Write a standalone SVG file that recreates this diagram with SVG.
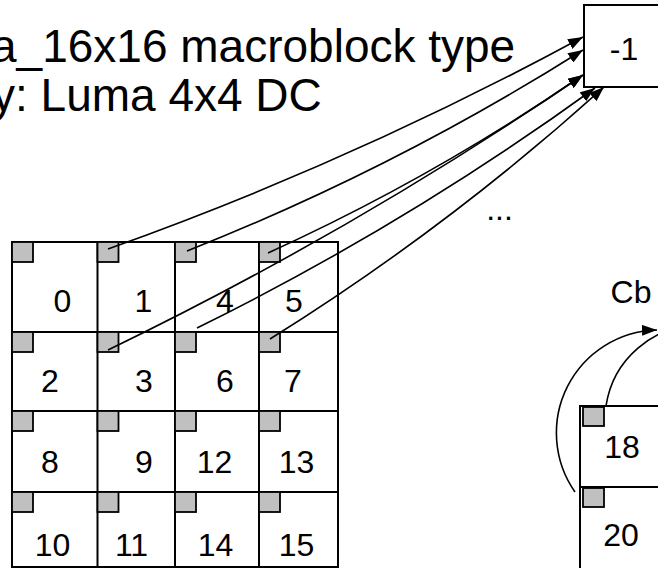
<svg xmlns="http://www.w3.org/2000/svg" width="658" height="568" viewBox="0 0 658 568">
<style>
text{font-family:"Liberation Sans",Arial,sans-serif;fill:#000}
.num{font-size:32px;text-anchor:middle}
.title{font-size:46px}
.grid{fill:none;stroke:#000;stroke-width:2}
.sq{fill:#c0c0c0;stroke:#000;stroke-width:1.8}
.conn{fill:none;stroke:#000;stroke-width:1.6}
</style>
<defs>
<marker id="ah" viewBox="0 0 15 11" refX="15" refY="5.5" markerWidth="15" markerHeight="11" orient="auto" markerUnits="userSpaceOnUse"><path d="M0,0 L15,5.5 L0,11 z" fill="#000"/></marker>
</defs>
<rect width="658" height="568" fill="#fff"/>
<g id="title">
<text class="title" x="-9" y="62">a_16x16 macroblock type</text>
<text class="title" x="-8" y="111">y: Luma 4x4 DC</text>
</g>
<g id="dcblock">
<rect class="grid" x="584" y="5" width="90" height="82"/>
<text class="num" x="624" y="60">-1</text>
</g>
<g id="luma-grid">
<rect class="grid" x="12" y="242" width="326" height="325"/>
<line class="grid" x1="97.5" y1="242" x2="97.5" y2="567"/>
<line class="grid" x1="175" y1="242" x2="175" y2="567"/>
<line class="grid" x1="259" y1="242" x2="259" y2="567"/>
<line class="grid" x1="12" y1="332" x2="338" y2="332"/>
<line class="grid" x1="12" y1="411" x2="338" y2="411"/>
<line class="grid" x1="12" y1="492" x2="338" y2="492"/>
</g>
<g id="blk0"><rect class="sq" x="12" y="242" width="21" height="20"/><text class="num" x="62.5" y="312">0</text></g>
<g id="blk1"><rect class="sq" x="97.5" y="242" width="21" height="20"/><text class="num" x="143.5" y="312">1</text></g>
<g id="blk4"><rect class="sq" x="175" y="242" width="21" height="20"/><text class="num" x="225" y="312">4</text></g>
<g id="blk5"><rect class="sq" x="259" y="242" width="21" height="20"/><text class="num" x="294" y="312">5</text></g>
<g id="blk2"><rect class="sq" x="12" y="332" width="21" height="20"/><text class="num" x="50" y="392">2</text></g>
<g id="blk3"><rect class="sq" x="97.5" y="332" width="21" height="20"/><text class="num" x="144" y="392">3</text></g>
<g id="blk6"><rect class="sq" x="175" y="332" width="21" height="20"/><text class="num" x="225" y="392">6</text></g>
<g id="blk7"><rect class="sq" x="259" y="332" width="21" height="20"/><text class="num" x="293" y="392">7</text></g>
<g id="blk8"><rect class="sq" x="12" y="411" width="21" height="20"/><text class="num" x="50" y="473">8</text></g>
<g id="blk9"><rect class="sq" x="97.5" y="411" width="21" height="20"/><text class="num" x="144" y="473">9</text></g>
<g id="blk12"><rect class="sq" x="175" y="411" width="21" height="20"/><text class="num" x="214.5" y="473">12</text></g>
<g id="blk13"><rect class="sq" x="259" y="411" width="21" height="20"/><text class="num" x="296.5" y="473">13</text></g>
<g id="blk10"><rect class="sq" x="12" y="492" width="21" height="20"/><text class="num" x="52.5" y="556">10</text></g>
<g id="blk11"><rect class="sq" x="97.5" y="492" width="21" height="20"/><text class="num" x="131.5" y="556">11</text></g>
<g id="blk14"><rect class="sq" x="175" y="492" width="21" height="20"/><text class="num" x="215.5" y="556">14</text></g>
<g id="blk15"><rect class="sq" x="259" y="492" width="21" height="20"/><text class="num" x="296.5" y="556">15</text></g>
<g id="ellipsis"><text class="num" x="499.5" y="220">...</text></g>
<g id="cb-label"><text class="num" x="631" y="303">Cb</text></g>
<g id="chroma">
<path class="grid" d="M580,568 V406 H660 M580,487 H660"/>
<rect class="sq" x="583" y="407" width="21" height="19"/>
<text class="num" x="622" y="458">18</text>
<rect class="sq" x="583" y="488" width="21" height="19"/>
<text class="num" x="621" y="546">20</text>
</g>
<g id="connectors">
<path class="conn" marker-end="url(#ah)" d="M108,249 Q353.5,161.5 583,37"/>
<path class="conn" marker-end="url(#ah)" d="M187,251 Q394.5,169 583,50"/>
<path class="conn" marker-end="url(#ah)" d="M268,253 Q433,178 583,75"/>
<path class="conn" marker-end="url(#ah)" d="M108,350 Q356,230 583,75"/>
<path class="conn" marker-end="url(#ah)" d="M197,328 Q406,225 595,88"/>
<path class="conn" marker-end="url(#ah)" d="M270,339 Q448,228 604,87"/>
<path class="conn" marker-end="url(#ah)" d="M575,492 A103,103 0 0 1 657,330"/>
<path class="conn" marker-end="url(#ah)" d="M606,406 A95,95 0 0 1 700,325"/>
</g>
</svg>
